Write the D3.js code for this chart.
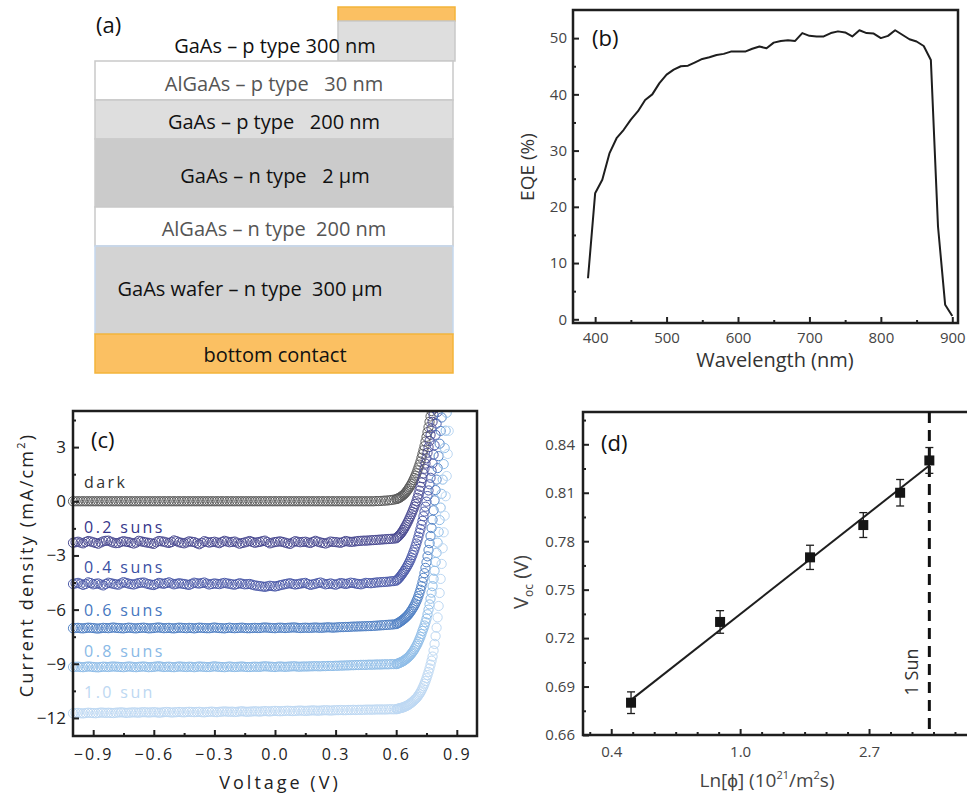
<!DOCTYPE html>
<html>
<head>
<meta charset="utf-8">
<script src="https://cdn.jsdelivr.net/npm/d3@7"></script>
<style>
body { margin: 0; background: #fff; }
svg { display: block; font-family: 'Open Sans', sans-serif; }
</style>
</head>
<body>
<svg id="fig" width="968" height="796"></svg>
<script>
// ---- (a) device stack
var layerLabels = ['GaAs \u2013 p type 300 nm', 'AlGaAs \u2013 p type   30 nm', 'GaAs \u2013 p type   200 nm',
    'GaAs \u2013 n type   2 \u00b5m', 'AlGaAs \u2013 n type  200 nm', 'GaAs wafer \u2013 n type  300 \u00b5m', 'bottom contact']

// ---- (b) EQE spectrum
var wavelength = [390, 400, 410, 420, 430, 440, 450, 460, 470, 480, 490, 500, 510, 520, 530, 540, 550, 560, 570, 580,
    590, 600, 610, 620, 630, 640, 650, 660, 670, 680, 690, 700, 710, 720, 730, 740, 750, 760, 770, 780,
    790, 800, 810, 820, 830, 840, 850, 860, 870, 880, 890, 900]
var eqe = [7.3, 22.4, 24.8, 29.5, 32.2, 33.7, 35.5, 37.0, 39.0, 40.0, 42.0, 43.5, 44.4, 45.0, 45.1, 45.7, 46.3, 46.6, 47.0, 47.2,
    47.6, 47.6, 47.6, 48.1, 48.5, 48.2, 49.2, 49.5, 49.6, 49.5, 50.9, 50.4, 50.3, 50.3, 50.9, 51.2, 51.0, 50.3, 51.4, 50.9,
    50.8, 50.0, 50.4, 51.4, 50.6, 49.8, 49.4, 48.6, 46.1, 16.5, 2.6, 0.6]

// ---- (c) J-V curves
var jvLabels = ['dark', '0.2 suns', '0.4 suns', '0.6 suns', '0.8 suns', '1.0 sun']
var voltage = [
    -1.0000, -0.9875, -0.9750, -0.9625, -0.9500, -0.9375, -0.9250, -0.9125, -0.9000, -0.8875, -0.8750, -0.8625, -0.8500, -0.8375, -0.8250, -0.8125,
    -0.8000, -0.7875, -0.7750, -0.7625, -0.7500, -0.7375, -0.7250, -0.7125, -0.7000, -0.6875, -0.6750, -0.6625, -0.6500, -0.6375, -0.6250, -0.6125,
    -0.6000, -0.5875, -0.5750, -0.5625, -0.5500, -0.5375, -0.5250, -0.5125, -0.5000, -0.4875, -0.4750, -0.4625, -0.4500, -0.4375, -0.4250, -0.4125,
    -0.4000, -0.3875, -0.3750, -0.3625, -0.3500, -0.3375, -0.3250, -0.3125, -0.3000, -0.2875, -0.2750, -0.2625, -0.2500, -0.2375, -0.2250, -0.2125,
    -0.2000, -0.1875, -0.1750, -0.1625, -0.1500, -0.1375, -0.1250, -0.1125, -0.1000, -0.0875, -0.0750, -0.0625, -0.0500, -0.0375, -0.0250, -0.0125,
    0.0000, 0.0125, 0.0250, 0.0375, 0.0500, 0.0625, 0.0750, 0.0875, 0.1000, 0.1125, 0.1250, 0.1375, 0.1500, 0.1625, 0.1750, 0.1875,
    0.2000, 0.2125, 0.2250, 0.2375, 0.2500, 0.2625, 0.2750, 0.2875, 0.3000, 0.3125, 0.3250, 0.3375, 0.3500, 0.3625, 0.3750, 0.3875,
    0.4000, 0.4125, 0.4250, 0.4375, 0.4500, 0.4625, 0.4750, 0.4875, 0.5000, 0.5125, 0.5250, 0.5375, 0.5500, 0.5625, 0.5750, 0.5875,
    0.600, 0.605, 0.610, 0.615, 0.620, 0.625, 0.630, 0.635, 0.640, 0.645,
    0.650, 0.655, 0.660, 0.665, 0.670, 0.675, 0.680, 0.685, 0.690, 0.695,
    0.700, 0.705, 0.710, 0.715, 0.720, 0.725, 0.730, 0.735, 0.740, 0.745,
    0.750, 0.755, 0.760, 0.765, 0.770, 0.775, 0.780, 0.785, 0.790, 0.795,
    0.800, 0.805, 0.810, 0.815, 0.820, 0.825, 0.830, 0.835, 0.840, 0.845,
    0.850, 0.855, 0.860, 0.865]
var jDark = [
    0, 0, 0, 0, 0, 0, 0, 0, 0, 0, 0, 0, 0, 0, 0, 0,
    0, 0, 0, 0, 0, 0, 0, 0, 0, 0, 0, 0, 0, 0, 0, 0,
    0, 0, 0, 0, 0, 0, 0, 0, 0, 0, 0, 0, 0, 0, 0, 0,
    0, 0, 0, 0, 0, 0, 0, 0, 0, 0, 0, 0, 0, 0, 0, 0,
    0, 0, 0, 0, 0, 0, 0, 0, 0, 0, 0, 0, 0, 0, 0, 0,
    0, 0, 0, 0, 0, 0, 0, 0, 0, 0, 0, 0, 0, 0, 0, 0,
    0, 0, 0, 0, 0, 0, 0, 0, 0, 0, 0, 0, 0, 0, 0, 0,
    0, 0, 0, 0, 0, 0, 0, 0, 0.01, 0.01, 0.02, 0.03, 0.04, 0.05, 0.07, 0.09,
    0.12, 0.14, 0.16, 0.19, 0.22, 0.26, 0.30, 0.35, 0.40, 0.46,
    0.53, 0.60, 0.68, 0.77, 0.86, 0.95, 1.05, 1.17, 1.29, 1.42,
    1.55, 1.71, 1.87, 2.03, 2.20, 2.41, 2.62, 2.83, 3.05, 3.31,
    3.57, 3.83, 4.10, 4.40, 4.70, 5.00, 5.30]
var j02 = [
    -2.30, -2.27, -2.24, -2.29, -2.33, -2.26, -2.20, -2.23, -2.27, -2.31, -2.35, -2.28, -2.22, -2.19, -2.18, -2.24,
    -2.29, -2.32, -2.31, -2.25, -2.21, -2.24, -2.26, -2.30, -2.34, -2.29, -2.19, -2.22, -2.25, -2.28, -2.30, -2.33,
    -2.36, -2.27, -2.20, -2.22, -2.24, -2.28, -2.31, -2.26, -2.17, -2.21, -2.27, -2.30, -2.33, -2.28, -2.22, -2.24,
    -2.26, -2.32, -2.38, -2.30, -2.21, -2.25, -2.29, -2.26, -2.24, -2.28, -2.32, -2.25, -2.19, -2.23, -2.27, -2.25,
    -2.23, -2.29, -2.35, -2.31, -2.28, -2.24, -2.20, -2.25, -2.30, -2.27, -2.25, -2.21, -2.18, -2.26, -2.33, -2.29,
    -2.26, -2.24, -2.22, -2.25, -2.29, -2.33, -2.36, -2.28, -2.21, -2.24, -2.27, -2.25, -2.24, -2.28, -2.31, -2.25,
    -2.19, -2.24, -2.28, -2.31, -2.34, -2.29, -2.23, -2.25, -2.26, -2.28, -2.30, -2.25, -2.20, -2.23, -2.25, -2.24,
    -2.22, -2.20, -2.19, -2.18, -2.18, -2.17, -2.16, -2.15, -2.14, -2.13, -2.12, -2.11, -2.10, -2.09, -2.08, -2.07,
    -2.05, -2.00, -1.95, -1.89, -1.83, -1.76, -1.68, -1.59, -1.50, -1.40,
    -1.30, -1.19, -1.08, -0.96, -0.84, -0.71, -0.58, -0.44, -0.30, -0.15,
    0.00, 0.19, 0.38, 0.59, 0.80, 1.04, 1.28, 1.54, 1.80, 2.09,
    2.38, 2.69, 3.00, 3.34, 3.68, 4.04, 4.40, 4.78, 5.15]
var j04 = [
    -4.58, -4.55, -4.52, -4.57, -4.63, -4.58, -4.49, -4.53, -4.60, -4.57, -4.55, -4.61, -4.66, -4.58, -4.51, -4.54,
    -4.57, -4.60, -4.62, -4.55, -4.48, -4.52, -4.56, -4.59, -4.61, -4.57, -4.53, -4.51, -4.50, -4.55, -4.59, -4.62,
    -4.64, -4.58, -4.52, -4.55, -4.57, -4.53, -4.49, -4.55, -4.60, -4.57, -4.54, -4.56, -4.58, -4.61, -4.63, -4.57,
    -4.51, -4.54, -4.56, -4.53, -4.50, -4.56, -4.61, -4.58, -4.55, -4.57, -4.59, -4.55, -4.52, -4.55, -4.57, -4.60,
    -4.62, -4.58, -4.54, -4.57, -4.60, -4.59, -4.58, -4.62, -4.66, -4.68, -4.70, -4.72, -4.74, -4.71, -4.68, -4.70,
    -4.72, -4.69, -4.65, -4.62, -4.59, -4.56, -4.54, -4.58, -4.61, -4.59, -4.56, -4.54, -4.52, -4.58, -4.63, -4.60,
    -4.57, -4.53, -4.50, -4.55, -4.60, -4.58, -4.55, -4.59, -4.62, -4.57, -4.53, -4.55, -4.58, -4.55, -4.51, -4.53,
    -4.56, -4.58, -4.60, -4.56, -4.52, -4.53, -4.54, -4.52, -4.50, -4.49, -4.48, -4.47, -4.46, -4.45, -4.43, -4.42,
    -4.40, -4.35, -4.30, -4.24, -4.17, -4.10, -4.02, -3.94, -3.86, -3.77,
    -3.68, -3.58, -3.48, -3.37, -3.25, -3.12, -2.98, -2.83, -2.68, -2.51,
    -2.34, -2.15, -1.96, -1.75, -1.54, -1.31, -1.08, -0.83, -0.57, -0.30,
    -0.02, 0.29, 0.60, 0.94, 1.30, 1.69, 2.10, 2.58, 3.10, 3.68,
    4.30, 4.95, 5.60]
var j06 = [
    -7.03, -7.02, -7.01, -7.03, -7.04, -7.02, -7.00, -7.01, -7.02, -7.04, -7.05, -7.03, -7.01, -7.02, -7.03, -7.01,
    -6.99, -7.01, -7.02, -7.03, -7.04, -7.02, -7.00, -7.01, -7.03, -7.04, -7.02, -7.01, -7.00, -7.02, -7.04, -7.03,
    -7.02, -7.00, -6.99, -7.01, -7.03, -7.02, -7.01, -7.03, -7.04, -7.02, -7.00, -7.01, -7.02, -7.03, -7.01, -7.02,
    -7.04, -7.02, -7.00, -7.01, -7.02, -7.03, -7.03, -7.01, -6.99, -7.01, -7.02, -7.03, -7.04, -7.02, -7.00, -7.02,
    -7.03, -7.02, -7.01, -7.00, -7.02, -7.03, -7.03, -7.02, -7.01, -7.02, -7.02, -7.00, -6.99, -7.00, -7.01, -7.02,
    -7.03, -7.01, -7.00, -7.01, -7.02, -7.01, -7.00, -6.99, -6.99, -7.01, -7.02, -7.01, -7.00, -7.01, -7.01, -7.00,
    -6.99, -7.00, -7.01, -7.00, -6.99, -6.98, -6.99, -7.00, -6.99, -6.98, -6.97, -6.97, -6.96, -6.96, -6.95, -6.94,
    -6.94, -6.93, -6.93, -6.92, -6.92, -6.91, -6.91, -6.90, -6.89, -6.88, -6.87, -6.86, -6.85, -6.84, -6.83, -6.82,
    -6.80, -6.77, -6.74, -6.71, -6.67, -6.63, -6.59, -6.55, -6.50, -6.45,
    -6.40, -6.34, -6.28, -6.21, -6.13, -6.05, -5.96, -5.87, -5.77, -5.66,
    -5.53, -5.40, -5.25, -5.08, -4.90, -4.70, -4.48, -4.24, -3.98, -3.69,
    -3.38, -3.05, -2.70, -2.32, -1.92, -1.48, -1.02, -0.50, 0.05, 0.62,
    1.20, 1.84, 2.50, 3.19, 3.90, 4.64, 5.40]
var j08 = [
    -9.18, -9.17, -9.16, -9.18, -9.19, -9.17, -9.15, -9.16, -9.18, -9.19, -9.20, -9.18, -9.16, -9.17, -9.18, -9.16,
    -9.15, -9.16, -9.17, -9.18, -9.19, -9.17, -9.15, -9.16, -9.18, -9.19, -9.17, -9.16, -9.15, -9.17, -9.19, -9.18,
    -9.17, -9.15, -9.14, -9.16, -9.18, -9.17, -9.16, -9.18, -9.19, -9.17, -9.15, -9.16, -9.17, -9.18, -9.16, -9.17,
    -9.19, -9.17, -9.15, -9.16, -9.17, -9.18, -9.18, -9.16, -9.14, -9.16, -9.17, -9.18, -9.19, -9.17, -9.15, -9.17,
    -9.18, -9.17, -9.16, -9.15, -9.17, -9.18, -9.18, -9.17, -9.16, -9.17, -9.17, -9.15, -9.14, -9.15, -9.16, -9.17,
    -9.18, -9.16, -9.15, -9.16, -9.17, -9.16, -9.15, -9.14, -9.14, -9.16, -9.16, -9.15, -9.15, -9.15, -9.14, -9.14,
    -9.13, -9.14, -9.14, -9.13, -9.13, -9.12, -9.12, -9.12, -9.11, -9.11, -9.10, -9.10, -9.09, -9.09, -9.08, -9.08,
    -9.07, -9.07, -9.06, -9.06, -9.06, -9.05, -9.05, -9.05, -9.04, -9.04, -9.04, -9.03, -9.03, -9.03, -9.02, -9.02,
    -9.02, -9.00, -8.98, -8.96, -8.93, -8.91, -8.88, -8.85, -8.81, -8.77,
    -8.73, -8.68, -8.63, -8.57, -8.51, -8.44, -8.37, -8.29, -8.20, -8.10,
    -8.00, -7.89, -7.77, -7.64, -7.50, -7.35, -7.18, -7.04, -6.88, -6.70,
    -6.50, -6.26, -6.00, -5.71, -5.40, -5.06, -4.70, -4.29, -3.85, -3.36,
    -2.85, -2.29, -1.70, -1.04, -0.35, 0.41, 1.20, 2.06, 2.95, 3.91,
    4.90, 5.90]
var j10 = [
    -11.74, -11.73, -11.72, -11.74, -11.75, -11.73, -11.71, -11.72, -11.73, -11.74, -11.72, -11.70, -11.71, -11.72, -11.71, -11.72,
    -11.73, -11.71, -11.70, -11.69, -11.70, -11.72, -11.71, -11.70, -11.69, -11.70, -11.71, -11.69, -11.68, -11.69, -11.70, -11.69,
    -11.68, -11.69, -11.71, -11.70, -11.68, -11.67, -11.68, -11.70, -11.69, -11.68, -11.67, -11.68, -11.69, -11.67, -11.66, -11.67,
    -11.68, -11.67, -11.66, -11.68, -11.69, -11.67, -11.66, -11.65, -11.67, -11.68, -11.66, -11.65, -11.64, -11.65, -11.66, -11.65,
    -11.67, -11.66, -11.64, -11.63, -11.65, -11.66, -11.65, -11.64, -11.63, -11.64, -11.65, -11.63, -11.62, -11.63, -11.64, -11.62,
    -11.61, -11.62, -11.63, -11.62, -11.61, -11.60, -11.61, -11.62, -11.61, -11.60, -11.59, -11.60, -11.61, -11.60, -11.59, -11.58,
    -11.59, -11.60, -11.59, -11.58, -11.57, -11.58, -11.59, -11.58, -11.57, -11.57, -11.56, -11.57, -11.57, -11.56, -11.56, -11.55,
    -11.56, -11.55, -11.55, -11.55, -11.54, -11.54, -11.54, -11.54, -11.53, -11.53, -11.53, -11.53, -11.53, -11.52, -11.52, -11.52,
    -11.52, -11.50, -11.49, -11.47, -11.46, -11.44, -11.43, -11.41, -11.39, -11.36,
    -11.34, -11.31, -11.28, -11.24, -11.20, -11.16, -11.11, -11.06, -11.00, -10.95,
    -10.90, -10.83, -10.75, -10.67, -10.58, -10.48, -10.36, -10.24, -10.10, -9.96,
    -9.80, -9.63, -9.45, -9.26, -9.05, -8.83, -8.60, -8.27, -7.90, -7.47,
    -7.00, -6.43, -5.80, -5.08, -4.30, -3.47, -2.60, -1.72, -0.80, 0.28,
    1.40, 2.62, 3.90, 5.20]

// ---- (d) Voc vs photon flux
var flux = [0.429, 0.856, 1.72, 2.60, 3.46, 4.34]
var voc = [0.680, 0.730, 0.770, 0.790, 0.810, 0.830]
var vocErr = [0.0067, 0.0070, 0.0075, 0.0077, 0.0082, 0.0080]
var fitIntercept = 0.7348, fitSlope = 0.0627   // Voc = a + b ln(phi)
var oneSunFlux = 4.34

var svg = d3.select('#fig')

// inward ticks, no domain line (frames are drawn separately)
function ticksBottom(g, scale, y, major, minor, fmt, pad, fs, ls) {
    var a = g.append('g').attr('transform', 'translate(0,' + y + ')')
        .call(d3.axisBottom(scale).tickValues(major).tickSizeInner(-6).tickSizeOuter(0).tickPadding(pad).tickFormat(fmt))
    a.select('.domain').remove()
    a.selectAll('line').style('stroke', '#222').style('stroke-width', 2)
    a.selectAll('text').style('font-size', fs).style('fill', '#444').style('font-family', "'Open Sans',sans-serif").style('letter-spacing', ls || '0px')
    var m = g.append('g').attr('transform', 'translate(0,' + y + ')')
        .call(d3.axisBottom(scale).tickValues(minor).tickSizeInner(-3).tickSizeOuter(0).tickFormat(''))
    m.select('.domain').remove()
    m.selectAll('line').style('stroke', '#222').style('stroke-width', 2)
}
function ticksLeft(g, scale, x, major, minor, fmt, pad, fs, ls) {
    var a = g.append('g').attr('transform', 'translate(' + x + ',0)')
        .call(d3.axisLeft(scale).tickValues(major).tickSizeInner(-6).tickSizeOuter(0).tickPadding(pad).tickFormat(fmt))
    a.select('.domain').remove()
    a.selectAll('line').style('stroke', '#222').style('stroke-width', 2)
    a.selectAll('text').style('font-size', fs).style('fill', '#444').style('font-family', "'Open Sans',sans-serif").style('letter-spacing', ls || '0px')
    var m = g.append('g').attr('transform', 'translate(' + x + ',0)')
        .call(d3.axisLeft(scale).tickValues(minor).tickSizeInner(-3).tickSizeOuter(0).tickFormat(''))
    m.select('.domain').remove()
    m.selectAll('line').style('stroke', '#222').style('stroke-width', 2)
}

/* ------------------------------ (a) ------------------------------ */
var ga = svg.append('g')
var orange = '#fbc062', orangeEdge = '#f4b43a', edge = '#c9c9c9'

// top contact + top GaAs mesa
ga.append('rect').attr('x', 338).attr('y', 7).attr('width', 117).attr('height', 14)
    .style('fill', orange).style('stroke', orangeEdge).style('stroke-width', 1.5)
ga.append('rect').attr('x', 338).attr('y', 21).attr('width', 117).attr('height', 40)
    .style('fill', '#dedede').style('stroke', edge).style('stroke-width', 1.5)

var stack = [
    { y0: 61, y1: 100, fill: '#ffffff', stroke: edge },
    { y0: 100, y1: 139, fill: '#dedede', stroke: edge },
    { y0: 139, y1: 207, fill: '#cbcbcb', stroke: '#cbcbcb' },
    { y0: 207, y1: 246, fill: '#ffffff', stroke: edge },
    { y0: 246, y1: 334, fill: '#d3d3d3', stroke: '#c5d8ee' },
    { y0: 334, y1: 373, fill: orange, stroke: orangeEdge }
]
ga.selectAll('.layer').data(stack).enter().append('rect').attr('class', 'layer')
    .attr('x', 95).attr('width', 358)
    .attr('y', d => d.y0).attr('height', d => d.y1 - d.y0)
    .style('fill', d => d.fill).style('stroke', d => d.stroke).style('stroke-width', 1.5)

var labelPos = [[275, 46], [274, 84], [274, 122], [275, 176], [274, 229], [250, 289], [275, 355]]
var labelCol = ['#111', '#555', '#111', '#111', '#555', '#111', '#111']
ga.selectAll('.lbl').data(layerLabels).enter().append('text').attr('class', 'lbl')
    .attr('x', (d, i) => labelPos[i][0]).attr('y', (d, i) => labelPos[i][1]).attr('dy', '0.36em')
    .attr('text-anchor', 'middle').attr('xml:space', 'preserve')
    .style('white-space', 'pre').style('font-size', '20px').style('fill', (d, i) => labelCol[i])
    .text(d => d)
ga.append('text').attr('x', 96).attr('y', 25).attr('dy', '0.36em').style('font-size', '22px').style('fill', '#111').text('(a)')

/* ------------------------------ (b) ------------------------------ */
var gb = svg.append('g')
var xb = d3.scaleLinear().domain([369, 908]).range([573, 958])
var yb = d3.scaleLinear().domain([-0.66, 55]).range([323, 10])

gb.append('path').datum(d3.zip(wavelength, eqe))
    .attr('d', d3.line().x(d => xb(d[0])).y(d => yb(d[1])))
    .style('fill', 'none').style('stroke', '#1e1e1e').style('stroke-width', 2).style('stroke-linejoin', 'round')

ticksBottom(gb, xb, 323, [400, 500, 600, 700, 800, 900], [450, 550, 650, 750, 850], d3.format('d'), 9, '15px')
ticksLeft(gb, yb, 573, [0, 10, 20, 30, 40, 50], [5, 15, 25, 35, 45], d3.format('d'), 6, '15px')
gb.append('rect').attr('x', 573).attr('y', 10).attr('width', 385).attr('height', 313)
    .style('fill', 'none').style('stroke', '#1e1e1e').style('stroke-width', 2.5)

gb.append('text').attr('x', 775).attr('y', 360).attr('dy', '0.36em').attr('text-anchor', 'middle')
    .style('font-size', '20px').style('fill', '#333').text('Wavelength (nm)')
gb.append('text').attr('transform', 'translate(527,167) rotate(-90)').attr('dy', '0.36em').attr('text-anchor', 'middle')
    .style('font-size', '19px').style('fill', '#333').text('EQE (%)')
gb.append('text').attr('x', 592).attr('y', 38).attr('dy', '0.36em').style('font-size', '22px').style('fill', '#111').text('(b)')

/* ------------------------------ (c) ------------------------------ */
var gc = svg.append('g')
var xc = d3.scaleLinear().domain([-1, 1]).range([73, 477])
var yc = d3.scaleLinear().domain([-13, 5]).range([736, 411])

var jvSeries = [jDark, j02, j04, j06, j08, j10]
var jvStroke = ['#5c5c5c', '#4b4b92', '#4e5caa', '#5282c5', '#8fbde8', '#bdd8f3']
var jvText = ['#333333', '#35358a', '#3a4fa3', '#4677c0', '#89b9e6', '#bdd8f2']

gc.append('clipPath').attr('id', 'clipc').append('rect')
    .attr('x', 60).attr('y', 411).attr('width', 440).attr('height', 340)

var curves = gc.append('g').attr('clip-path', 'url(#clipc)')
jvSeries.forEach(function(js, k) {
    var pts = js.map((j, i) => [voltage[i], j])
    curves.append('g').selectAll('circle').data(pts).enter().append('circle')
        .attr('cx', d => xc(d[0])).attr('cy', d => yc(d[1])).attr('r', 4.6)
        .style('fill', 'none').style('stroke', jvStroke[k]).style('stroke-width', 1)
})

var labelJ = [1.06, -1.43, -3.64, -6.02, -8.29, -10.6]
gc.selectAll('.jvl').data(jvLabels).enter().append('text').attr('class', 'jvl')
    .attr('x', xc(-0.945)).attr('y', (d, i) => yc(labelJ[i])).attr('dy', '0.36em')
    .style('font-size', '16px').style('letter-spacing', '2.4px').style('fill', (d, i) => jvText[i])
    .text(d => d)

ticksBottom(gc, xc, 736, [-0.9, -0.6, -0.3, 0, 0.3, 0.6, 0.9], [-0.75, -0.45, -0.15, 0.15, 0.45, 0.75], d3.format('.1f'), 13, '16px', '2px')
ticksLeft(gc, yc, 73, [-12, -9, -6, -3, 0, 3], [-10.5, -7.5, -4.5, -1.5, 1.5, 4.5], d3.format('d'), 7, '17px')
gc.selectAll('.tick text').style('fill', '#222')
gc.append('rect').attr('x', 73).attr('y', 411).attr('width', 404).attr('height', 325)
    .style('fill', 'none').style('stroke', '#1e1e1e').style('stroke-width', 2.5)

gc.append('text').attr('x', 280).attr('y', 783).attr('dy', '0.36em').attr('text-anchor', 'middle')
    .style('font-size', '18px').style('letter-spacing', '3px').style('fill', '#222').text('Voltage (V)')
var yt = gc.append('text').attr('transform', 'translate(27,565) rotate(-90)').attr('dy', '0.36em').attr('text-anchor', 'middle')
    .style('font-size', '18px').style('letter-spacing', '2.2px').style('fill', '#222')
yt.append('tspan').text('Current density (mA/cm')
yt.append('tspan').attr('dy', -8).style('font-size', '11px').text('2')
yt.append('tspan').attr('dy', 8).text(')')
gc.append('text').attr('x', 91).attr('y', 440).attr('dy', '0.36em').style('font-size', '22px').style('fill', '#111').text('(c)')

/* ------------------------------ (d) ------------------------------ */
var gd = svg.append('g')
var xd = d3.scaleLog().base(Math.E).domain([Math.exp(-1.219), Math.exp(1.76)]).range([583, 967])
var yd = d3.scaleLinear().domain([0.66, 0.86]).range([735, 412])

var minorLn = d3.range(-7, 11).filter(k => k % 6 != 0).map(k => Math.exp(k / 6))
ticksBottom(gd, xd, 735, [Math.exp(-1), 1, Math.exp(1)], minorLn, d3.format('.1f'), 11, '15px')
ticksLeft(gd, yd, 583, [0.66, 0.69, 0.72, 0.75, 0.78, 0.81, 0.84], [0.675, 0.705, 0.735, 0.765, 0.795, 0.825, 0.855], d3.format('.2f'), 8, '15px')

// frame: left, bottom, top (no right edge)
gd.append('path').attr('d', 'M967,412H583V735H967')
    .style('fill', 'none').style('stroke', '#1e1e1e').style('stroke-width', 2.5)

// 1 sun marker
gd.append('line').attr('x1', xd(oneSunFlux)).attr('x2', xd(oneSunFlux)).attr('y1', 412).attr('y2', 735)
    .style('stroke', '#111').style('stroke-width', 3).style('stroke-dasharray', '11,7')
gd.append('text').attr('transform', 'translate(' + (xd(oneSunFlux) - 18) + ',672) rotate(-90)').attr('dy', '0.36em')
    .attr('text-anchor', 'middle').style('font-size', '18px').style('fill', '#333').text('1 Sun')

// linear fit in ln(phi)
var fitEnds = [flux[0], flux[flux.length - 1]]
gd.append('path').datum(fitEnds)
    .attr('d', d3.line().x(d => xd(d)).y(d => yd(fitIntercept + fitSlope * Math.log(d))))
    .style('stroke', '#1e1e1e').style('stroke-width', 2).style('fill', 'none')

var pts = d3.zip(flux, voc, vocErr)
var eb = gd.selectAll('.eb').data(pts).enter().append('g').attr('class', 'eb')
eb.append('line').attr('x1', d => xd(d[0])).attr('x2', d => xd(d[0]))
    .attr('y1', d => yd(d[1] - d[2])).attr('y2', d => yd(d[1] + d[2]))
eb.append('line').attr('x1', d => xd(d[0]) - 4).attr('x2', d => xd(d[0]) + 4)
    .attr('y1', d => yd(d[1] + d[2])).attr('y2', d => yd(d[1] + d[2]))
eb.append('line').attr('x1', d => xd(d[0]) - 4).attr('x2', d => xd(d[0]) + 4)
    .attr('y1', d => yd(d[1] - d[2])).attr('y2', d => yd(d[1] - d[2]))
eb.selectAll('line').style('stroke', '#1e1e1e').style('stroke-width', 1.3)
gd.selectAll('.sq').data(pts).enter().append('rect').attr('class', 'sq')
    .attr('x', d => xd(d[0]) - 5).attr('y', d => yd(d[1]) - 5).attr('width', 10).attr('height', 10)
    .style('fill', '#151515')

var xt = gd.append('text').attr('x', 767).attr('y', 780).attr('dy', '0.36em').attr('text-anchor', 'middle')
    .style('font-size', '19px').style('fill', '#444')
xt.append('tspan').text('Ln[\u03d5] (10')
xt.append('tspan').attr('dy', -8).style('font-size', '11px').text('21')
xt.append('tspan').attr('dy', 8).text('/m')
xt.append('tspan').attr('dy', -8).style('font-size', '11px').text('2')
xt.append('tspan').attr('dy', 8).text('s)')

var vt = gd.append('text').attr('transform', 'translate(521,582) rotate(-90)').attr('dy', '0.36em').attr('text-anchor', 'middle')
    .style('font-size', '20px').style('fill', '#444')
vt.append('tspan').text('V')
vt.append('tspan').attr('dy', 5).style('font-size', '12px').text('oc')
vt.append('tspan').attr('dy', -5).text(' (V)')
gd.append('text').attr('x', 601).attr('y', 443).attr('dy', '0.36em').style('font-size', '22px').style('fill', '#111').text('(d)')
</script>
</body>
</html>
